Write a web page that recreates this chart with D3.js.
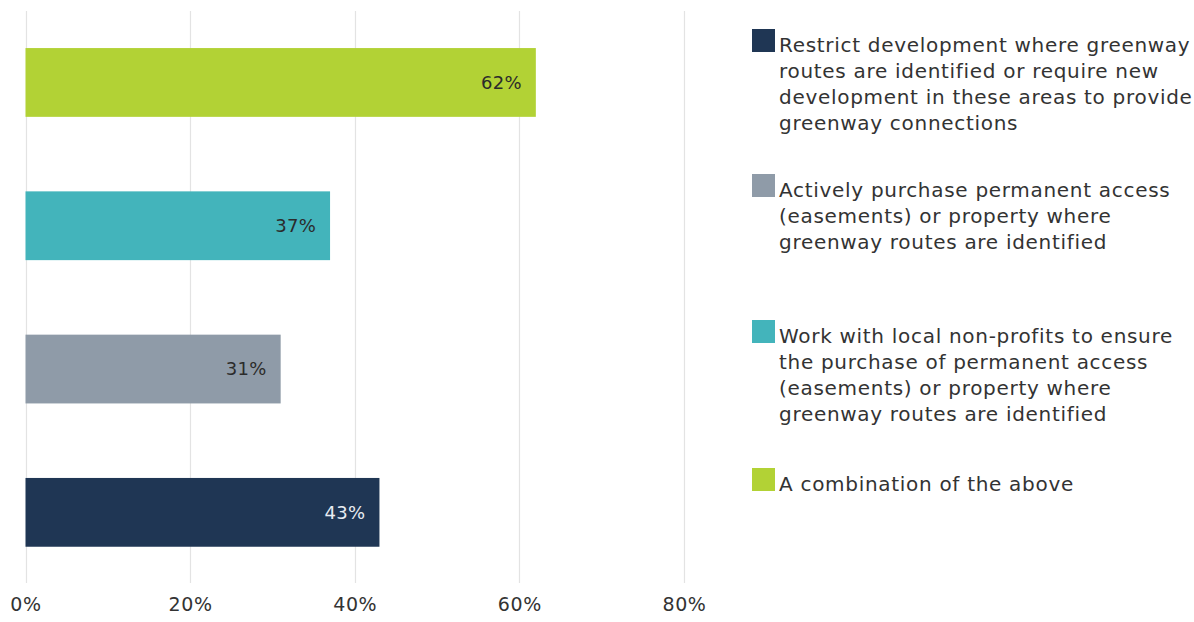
<!DOCTYPE html>
<html>
<head>
<meta charset="utf-8">
<script src="https://cdn.jsdelivr.net/npm/d3@7"></script>
<style>
  html, body { margin: 0; padding: 0; background: #fff; }
  svg { display: block; font-family: "DejaVu Sans", sans-serif; }
</style>
</head>
<body>
<svg id="chart" width="1194" height="622"></svg>
<script>
// Survey options (first entry is the bottom bar)
const categories = [
  "Restrict development where greenway routes are identified or require new development in these areas to provide greenway connections",
  "Actively purchase permanent access (easements) or property where greenway routes are identified",
  "Work with local non-profits to ensure the purchase of permanent access (easements) or property where greenway routes are identified",
  "A combination of the above"
];
const values = [43, 31, 37, 62];
const colors = ["#1f3654", "#8f9ba8", "#43b4bb", "#b2d235"];
const labelColors = ["#e8ecf2", "#2b2b2b", "#2b2b2b", "#2b2b2b"];
const tickValues = [0, 20, 40, 60, 80];

// Legend text, wrapped into lines
const legendLines = [
  ["Restrict development where greenway", "routes are identified or require new", "development in these areas to provide", "greenway connections"],
  ["Actively purchase permanent access", "(easements) or property where", "greenway routes are identified"],
  ["Work with local non-profits to ensure", "the purchase of permanent access", "(easements) or property where", "greenway routes are identified"],
  ["A combination of the above"]
];

const svg = d3.select("#chart");

const x = d3.scaleLinear().domain([0, 80]).range([25.5, 684]);
// top-to-bottom order: reversed
const order = d3.range(categories.length).reverse();
const y = d3.scaleBand().domain(order).range([10.8, 584]).paddingInner(0.52).paddingOuter(0.26);

// vertical gridlines
svg.append("g")
  .selectAll("line")
  .data(tickValues)
  .join("line")
  .attr("x1", d => Math.round(x(d)) + 0.5)
  .attr("x2", d => Math.round(x(d)) + 0.5)
  .attr("y1", 11)
  .attr("y2", 583)
  .attr("stroke", "#e3e3e3")
  .attr("stroke-width", 1.2);

// axis tick labels
const axis = d3.axisBottom(x).tickValues(tickValues).tickFormat(d => d + "%").tickSize(0);
const gAxis = svg.append("g").attr("transform", "translate(0,594)").call(axis);
gAxis.select(".domain").remove();
gAxis.selectAll("text")
  .attr("font-family", "DejaVu Sans, sans-serif")
  .attr("font-size", 19)
  .attr("letter-spacing", 0.6)
  .attr("fill", "#333");

// bars
svg.append("g")
  .selectAll("rect")
  .data(values)
  .join("rect")
  .attr("x", x(0))
  .attr("y", (d, i) => y(i))
  .attr("width", d => x(d) - x(0))
  .attr("height", y.bandwidth())
  .attr("fill", (d, i) => colors[i]);

// value labels inside bar ends
svg.append("g")
  .selectAll("text")
  .data(values)
  .join("text")
  .attr("x", d => x(d) - 14)
  .attr("y", (d, i) => y(i) + y.bandwidth() / 2)
  .attr("dy", "0.35em")
  .attr("text-anchor", "end")
  .attr("font-size", 18)
  .attr("letter-spacing", 0.3)
  .attr("fill", (d, i) => labelColors[i])
  .text(d => d + "%");

// legend
const legendTops = [52, 197, 343, 491];
const legend = svg.append("g");
legendLines.forEach((lines, i) => {
  const g = legend.append("g");
  g.append("rect")
    .attr("x", 752).attr("y", legendTops[i] - 23)
    .attr("width", 23).attr("height", 23)
    .attr("fill", colors[i]);
  g.append("text")
    .attr("font-size", 20)
    .attr("letter-spacing", 0.7)
    .attr("fill", "#333")
    .selectAll("tspan")
    .data(lines)
    .join("tspan")
    .attr("x", 779)
    .attr("y", (d, j) => legendTops[i] + j * 26)
    .text(d => d);
});
</script>
</body>
</html>
